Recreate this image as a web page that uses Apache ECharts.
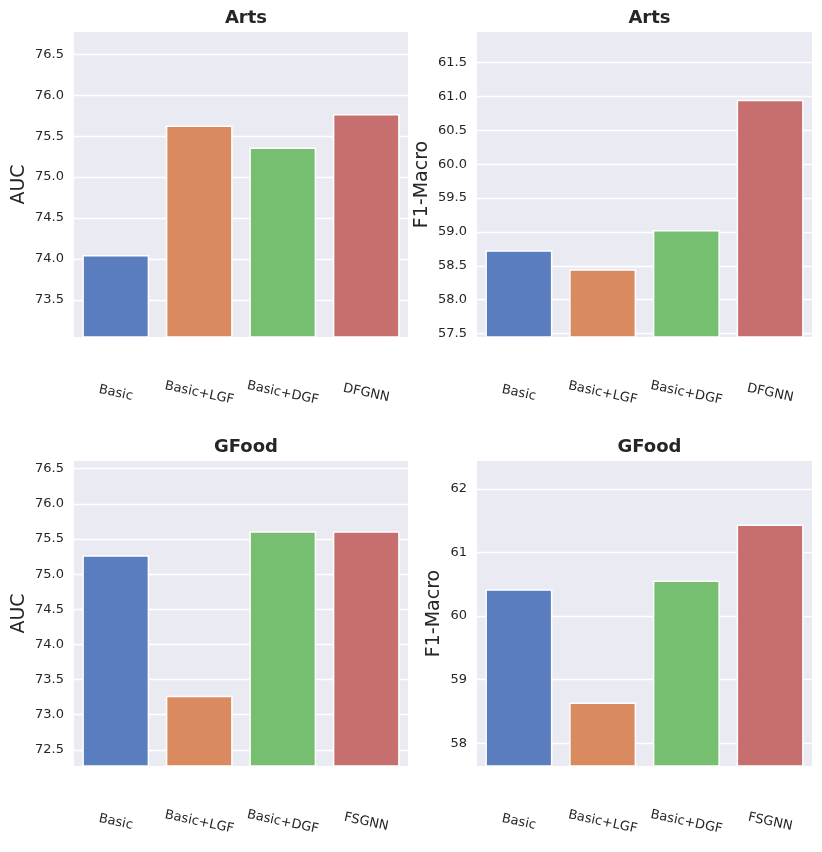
<!DOCTYPE html>
<html><head><meta charset="utf-8">
<script src="https://cdn.jsdelivr.net/npm/echarts@6/dist/echarts.min.js"></script>
<style>html,body{margin:0;padding:0;background:#fff}#c{width:822px;height:852px}</style>
</head><body><div id="c"></div>
<script>
const categoriesArts = ['Basic', 'Basic+LGF', 'Basic+DGF', 'DFGNN'];
const categoriesGFood = ['Basic', 'Basic+LGF', 'Basic+DGF', 'FSGNN'];
const artsAUC = [74.05, 75.63, 75.36, 75.77];
const artsF1 = [58.73, 58.45, 59.03, 60.95];
const gfoodAUC = [75.27, 73.27, 75.61, 75.61];
const gfoodF1 = [60.42, 58.64, 60.56, 61.44];
const barColors = ['#597DBF', '#D98B5F', '#76BF71', '#C76E6E'];
const titles = ['Arts', 'Arts', 'GFood', 'GFood'];
const yNames = ['AUC', 'F1-Macro', 'AUC', 'F1-Macro'];
const tickSteps = [0.5, 0.5, 0.5, 1];
const tickDecimals = [1, 1, 1, 0];

const FONT = 'DejaVu Sans';
const TXT = '#262626';
const layouts = [
  {left: 74, top: 32, width: 334, height: 305, nameGap: 45, titleTop: 4},
  {left: 477, top: 32, width: 335, height: 305, nameGap: 45, titleTop: 4},
  {left: 74, top: 461, width: 334, height: 305, nameGap: 45, titleTop: 433},
  {left: 477, top: 461, width: 335, height: 305, nameGap: 33, titleTop: 433}
];
const cats = [categoriesArts, categoriesArts, categoriesGFood, categoriesGFood];
const vals = [artsAUC, artsF1, gfoodAUC, gfoodF1];

const option = {
  backgroundColor: '#ffffff',
  animation: false,
  textStyle: {fontFamily: FONT},
  title: [], grid: [], xAxis: [], yAxis: [], series: []
};

for (let i = 0; i < 4; i++) {
  const L = layouts[i];
  const v = vals[i];
  const lo = Math.min.apply(null, v) - 1;
  const hi = Math.max.apply(null, v) + 1;
  option.title.push({
    text: titles[i], left: L.left + L.width / 2, top: L.titleTop, textAlign: 'center',
    textStyle: {fontFamily: FONT, fontSize: 18, fontWeight: 'bold', color: TXT}
  });
  option.grid.push({
    left: L.left, top: L.top, width: L.width, height: L.height,
    show: true, backgroundColor: '#EAEAF2', borderWidth: 0
  });
  option.xAxis.push({
    type: 'category', gridIndex: i, data: cats[i],
    axisLine: {show: false}, axisTick: {show: false}, splitLine: {show: false},
    axisLabel: {
      rotate: -12, margin: 56, align: 'center', verticalAlign: 'middle',
      fontFamily: FONT, fontSize: 13, color: TXT, interval: 0
    }
  });
  const dec = tickDecimals[i];
  option.yAxis.push({
    type: 'value', gridIndex: i, min: lo, max: hi,
    minInterval: tickSteps[i], maxInterval: tickSteps[i], splitNumber: 8,
    name: yNames[i], nameLocation: 'middle', nameGap: L.nameGap, nameRotate: 90,
    nameTextStyle: {fontFamily: FONT, fontSize: 19, color: TXT},
    axisLine: {show: false}, axisTick: {show: false},
    splitLine: {show: true, showMinLine: false, showMaxLine: false, lineStyle: {color: '#ffffff', width: 1.3}},
    axisLabel: {
      showMinLabel: false, showMaxLabel: false, margin: 10,
      fontFamily: FONT, fontSize: 13, color: TXT,
      formatter: function (x) { return x.toFixed(dec); }
    }
  });
  option.series.push({
    type: 'bar', xAxisIndex: i, yAxisIndex: i, barWidth: '80%',
    data: v.map(function (val, j) {
      return {value: val, itemStyle: {color: barColors[j], borderColor: '#ffffff', borderWidth: 1.5}};
    })
  });
}

const chart = echarts.init(document.getElementById('c'), null, {renderer: 'canvas'});
chart.setOption(option);
</script></body></html>
